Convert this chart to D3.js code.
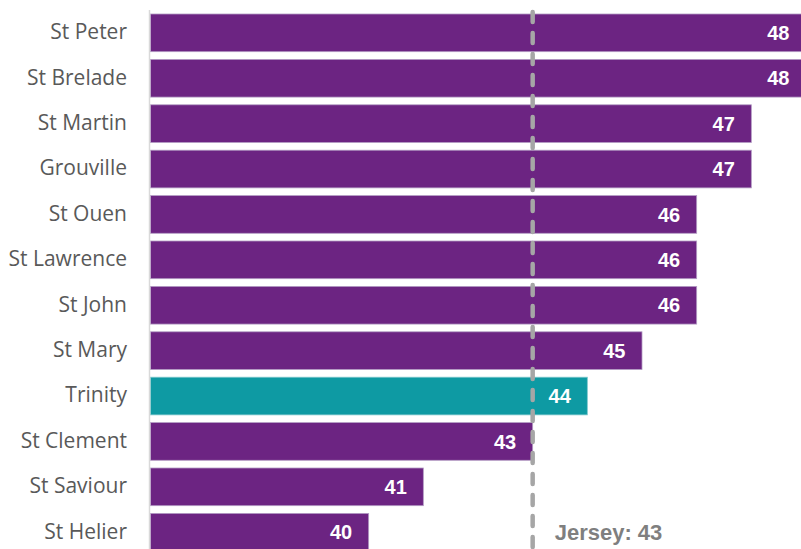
<!DOCTYPE html>
<html><head><meta charset="utf-8">
<script src="https://cdn.jsdelivr.net/npm/d3@7"></script>
<style>html,body{margin:0;padding:0;background:#fff;overflow:hidden}</style>
</head><body>
<svg id="chart" width="801" height="549"></svg>
<script>
const categories = ["St Peter","St Brelade","St Martin","Grouville","St Ouen","St Lawrence","St John","St Mary","Trinity","St Clement","St Saviour","St Helier"];
const values = [48,48,47,47,46,46,46,45,44,43,41,40];
const highlight = "Trinity";
const jerseyValue = 43;
const jerseyLabel = "Jersey: 43";

const svg = d3.select("#chart");
const W = 801, H = 549;
const x = d3.scaleLinear().domain([36, 48]).range([150, 806]);
const y = d3.scaleBand().domain(categories).range([10.14, 554.94]).paddingInner(0.17).paddingOuter(0.085);

const data = categories.map((c,i)=>({c, v: values[i]}));

svg.selectAll("rect.bar").data(data).join("rect")
  .attr("class","bar")
  .attr("x", x(36)+0.5)
  .attr("y", d=>y(d.c))
  .attr("width", d=>x(d.v)-x(36)-0.5)
  .attr("height", y.bandwidth())
  .attr("fill", d=>d.c===highlight ? "#0e9aa3" : "#6c2482")
  .attr("stroke", d=>d.c===highlight ? "#7fc8cd" : "#b39cc4")
  .attr("stroke-width", 0.8);

// axis line
svg.append("line")
  .attr("x1", x(36)-0.5).attr("x2", x(36)-0.5)
  .attr("y1", 10).attr("y2", H)
  .attr("stroke", "#d9d9d9").attr("stroke-width", 1.5);

// category labels
svg.selectAll("text.cat").data(data).join("text")
  .attr("class","cat")
  .attr("x", 127)
  .attr("y", d=>y(d.c)+y.bandwidth()/2)
  .attr("dy","0.3em")
  .attr("text-anchor","end")
  .attr("font-family","'Open Sans', sans-serif")
  .attr("font-size", 21)
  .attr("fill","#595959")
  .text(d=>d.c);

// jersey reference line
svg.append("line")
  .attr("x1", x(jerseyValue)).attr("x2", x(jerseyValue))
  .attr("y1", 12).attr("y2", H+10)
  .attr("stroke", "#a6a6a6").attr("stroke-width", 4.5)
  .attr("stroke-linecap","round")
  .attr("stroke-dasharray","10,11");

// value labels
svg.selectAll("text.val").data(data).join("text")
  .attr("class","val")
  .attr("x", d=>x(d.v)-16.5)
  .attr("y", d=>y(d.c)+y.bandwidth()/2)
  .attr("dy","0.36em")
  .attr("text-anchor","end")
  .attr("font-family","'Liberation Sans', Arial, sans-serif")
  .attr("font-weight","bold")
  .attr("font-size", 20)
  .attr("fill","#ffffff")
  .text(d=>d.v);

svg.append("text")
  .attr("x", x(jerseyValue)+22)
  .attr("y", y("St Helier")+y.bandwidth()/2)
  .attr("dy","0.36em")
  .attr("font-family","'Liberation Sans', Arial, sans-serif")
  .attr("font-weight","bold")
  .attr("font-size", 22)
  .attr("fill","#7f7f7f")
  .text(jerseyLabel);
</script>
</body></html>
